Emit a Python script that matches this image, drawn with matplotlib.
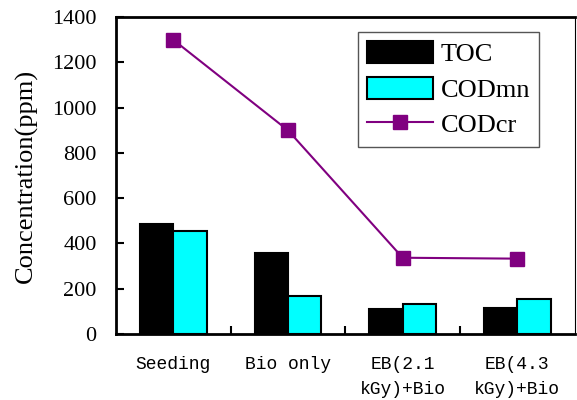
import numpy as np
import matplotlib.pyplot as plt

categories = ['Seeding', 'Bio only', 'EB(2.1\nkGy)+Bio', 'EB(4.3\nkGy)+Bio']
toc = [486, 356, 110, 117]
codmn = [455, 168, 133, 155]
codcr = [1300, 900, 337, 333]

fig = plt.figure(figsize=(5.77, 4), dpi=100)
ax = fig.add_axes([0.201, 0.165, 0.795, 0.792])

x = np.arange(len(categories))
w = 0.29
ax.bar(x - w / 2, toc, w, color='black', edgecolor='black', linewidth=1.5, label='TOC')
ax.bar(x + w / 2, codmn, w, color='#00ffff', edgecolor='black', linewidth=1.5, label='CODmn')
ax.plot(x, codcr, color='#800080', linewidth=1.5, marker='s', markersize=10, label='CODcr')

ax.set_xlim(-0.5, 3.5)
ax.set_ylim(0, 1400)
ax.set_yticks(range(0, 1401, 200))
ax.set_yticklabels([str(v) for v in range(0, 1401, 200)], family='Liberation Serif', fontsize=16)
ax.set_xticks([0.5, 1.5, 2.5])
ax.set_xticklabels([])
ax.set_xticks(x, minor=True)
ax.set_xticklabels(categories, minor=True, family='Liberation Mono', fontsize=13, linespacing=1.6)
ax.tick_params(axis='y', direction='in', length=6, width=1.5, pad=14)
ax.tick_params(axis='x', which='major', direction='in', length=6, width=1.5)
ax.tick_params(axis='x', which='minor', length=0, pad=16)
for s in ['left', 'bottom', 'top']:
    ax.spines[s].set_linewidth(2)
ax.spines['right'].set_linewidth(0.8)
ax.set_ylabel('Concentration(ppm)', family='Liberation Serif', fontsize=19, labelpad=10)

handles, labels = ax.get_legend_handles_labels()
order = [1, 2, 0]
leg = ax.legend([handles[i] for i in order], [labels[i] for i in order],
                loc='upper right', bbox_to_anchor=(0.952, 0.995),
                prop={'family': 'Liberation Serif', 'size': 19},
                fancybox=False, edgecolor='#555555', framealpha=1, handlelength=2.5,
                handleheight=0.9, borderpad=0.35, labelspacing=0.4, handletextpad=0.3)
leg.get_frame().set_linewidth(1)

fig.savefig('out.png', dpi=100)
